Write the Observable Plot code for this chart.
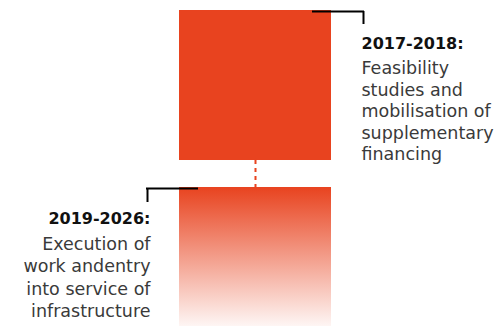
<!DOCTYPE html>
<html>
<head>
<meta charset="utf-8">
<script src="https://cdn.jsdelivr.net/npm/d3@7"></script>
<script src="https://cdn.jsdelivr.net/npm/@observablehq/plot@0.6"></script>
<style>
  html, body { margin: 0; padding: 0; background: #fff; }
  #chart svg { display: block; }
</style>
</head>
<body>
<div id="chart"></div>
<script>
// Phases (top to bottom)
const phaseLabels = ["2017-2018:", "2019-2026:"];
const phaseText = [
  "Feasibility\nstudies and\nmobilisation of\nsupplementary\nfinancing",
  "Execution of\nwork andentry\ninto service of\ninfrastructure"
];
// vertical extent of each phase block (diagram units, 0 = top)
const phaseStart = [10, 187];
const phaseEnd = [160, 326];
// horizontal extent of blocks
const blockLeft = [179, 179];
const blockRight = [331, 331];
// connector between blocks
const connector = [{x: 255, y1: 160, y2: 187}];
// callout brackets
const bracketH = [{x1: 312, x2: 364, y: 11}, {x1: 146, x2: 198, y: 188}];
const bracketV = [{x: 363, y1: 11, y2: 24}, {x: 147, y1: 188, y2: 202}];
// label anchors
const labelX = [361, 150];
const labelY = [37, 212];
const bodyY = [58.5, 233.5];
const bodyLineHeight = [1.23, 1.28];

const RED = "#e8431f";
const blocks = phaseLabels.map((p, i) => ({
  phase: p, x1: blockLeft[i], x2: blockRight[i], y1: phaseStart[i], y2: phaseEnd[i],
  fill: i === 0 ? RED : "url(#fadeGrad)"
}));
const labels = phaseLabels.map((p, i) => ({
  head: p, body: phaseText[i], x: labelX[i], y: labelY[i], by: bodyY[i]
}));

const defs = () => {
  const g = d3.create("svg:defs");
  const lg = g.append("linearGradient").attr("id", "fadeGrad")
    .attr("x1", 0).attr("y1", 0).attr("x2", 0).attr("y2", 1);
  lg.append("stop").attr("offset", "0%").attr("stop-color", RED).attr("stop-opacity", 1);
  lg.append("stop").attr("offset", "100%").attr("stop-color", RED).attr("stop-opacity", 0.05);
  return g.node();
};

const font = "'DejaVu Sans', sans-serif";
const headOpts = {x: "x", y: "y", text: "head", lineAnchor: "top", fontSize: 16, fontWeight: 700, fill: "#111"};
const bodyOpts = {x: "x", y: "by", text: "body", lineAnchor: "top", fontSize: 17.5, fill: "#3a3a3a"};

const chart = Plot.plot({
  width: 500,
  height: 326,
  margin: 0,
  x: {domain: [0, 500], range: [0, 500], axis: null},
  y: {domain: [0, 326], range: [0, 326], axis: null},
  style: {fontFamily: font, background: "#fff"},
  marks: [
    defs,
    Plot.rect(blocks, {x1: "x1", x2: "x2", y1: "y1", y2: "y2", fill: "fill"}),
    Plot.ruleX(connector, {x: "x", y1: "y1", y2: "y2", stroke: RED, strokeWidth: 2, strokeDasharray: "4,4"}),
    Plot.ruleY(bracketH, {y: "y", x1: "x1", x2: "x2", stroke: "#000", strokeWidth: 2}),
    Plot.ruleX(bracketV, {x: "x", y1: "y1", y2: "y2", stroke: "#000", strokeWidth: 2}),
    Plot.text([labels[0]], {...headOpts, textAnchor: "start"}),
    Plot.text([labels[0]], {...bodyOpts, textAnchor: "start", lineHeight: bodyLineHeight[0]}),
    Plot.text([labels[1]], {...headOpts, textAnchor: "end"}),
    Plot.text([labels[1]], {...bodyOpts, textAnchor: "end", lineHeight: bodyLineHeight[1]})
  ]
});
document.getElementById("chart").appendChild(chart);
</script>
</body>
</html>
